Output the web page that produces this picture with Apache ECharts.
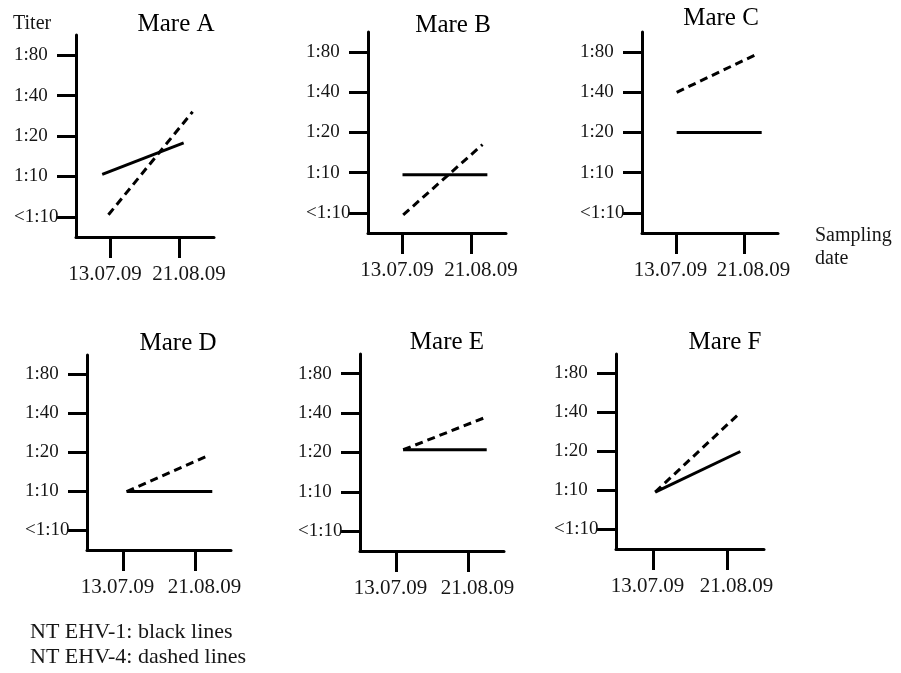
<!DOCTYPE html>
<html>
<head>
<meta charset="utf-8">
<script src="https://cdn.jsdelivr.net/npm/echarts@6/dist/echarts.min.js"></script>
<style>
html,body{margin:0;padding:0;background:#fff;}
#chart{width:901px;height:673px;}
</style>
</head>
<body>
<div id="chart"></div>
<script>
// ---- data ----
const mares = ['Mare A', 'Mare B', 'Mare C', 'Mare D', 'Mare E', 'Mare F'];
const dates = ['13.07.09', '21.08.09'];
const titerLabels = ['<1:10', '1:10', '1:20', '1:40', '1:80'];
// [x (sampling position), y (titer level index)] start and end of each line
const ehv1 = [
  [[-0.12, 1.05], [1.06, 1.83]],
  [[0.00, 0.95], [1.23, 0.95]],
  [[0.01, 2.00], [1.26, 2.00]],
  [[0.05, 1.00], [1.24, 1.00]],
  [[0.10, 2.07], [1.26, 2.07]],
  [[0.03, 0.96], [1.18, 2.00]]
];
const ehv4 = [
  [[-0.03, 0.05], [1.19, 2.60]],
  [[0.01, -0.05], [1.16, 1.70]],
  [[0.01, 3.00], [1.19, 3.95]],
  [[0.05, 1.00], [1.18, 1.92]],
  [[0.10, 2.07], [1.24, 2.89]],
  [[0.03, 0.96], [1.18, 3.00]]
];
const legendLines = ['NT EHV-1: black lines', 'NT EHV-4: dashed lines'];

// ---- layout ----
const boxes = [
  {left: 76, top: 35, width: 138, height: 202},
  {left: 368, top: 32, width: 138, height: 201},
  {left: 642, top: 32, width: 136, height: 201},
  {left: 87, top: 355, width: 144, height: 195},
  {left: 360, top: 354, width: 144, height: 197},
  {left: 616, top: 354, width: 148, height: 195}
];
const titlePos = [[176, 24], [453, 25], [721, 18], [178, 343], [447, 342], [725, 342]];
const FONT = '"Liberation Serif", "Times New Roman", serif';
const INK = '#161616';

const grid = [], xAxis = [], yAxis = [], series = [], graphic = [];
boxes.forEach((b, i) => {
  grid.push({left: b.left, top: b.top, width: b.width, height: b.height});
  xAxis.push({
    type: 'value', gridIndex: i, min: -0.5, max: 1.5,
    splitLine: {show: false},
    axisLine: {show: true, onZero: false, lineStyle: {color: '#000', width: 3}},
    axisTick: {show: true, customValues: [0, 1], length: 21, lineStyle: {color: '#000', width: 3}},
    axisLabel: {
      show: true, customValues: [0, 1], margin: 27,
      formatter: v => (v === 0 ? '{a|' : '{b|') + dates[Math.round(v)] + '}',
      rich: {
        a: {fontFamily: FONT, fontSize: 21, color: INK, padding: [0, 11, 0, 0]},
        b: {fontFamily: FONT, fontSize: 21, color: INK, padding: [0, 0, 0, 19]}
      }
    }
  });
  yAxis.push({
    type: 'value', gridIndex: i, min: -0.5, max: 4.5,
    splitLine: {show: false},
    axisLine: {show: true, onZero: false, lineStyle: {color: '#000', width: 3}},
    axisTick: {show: true, customValues: [0, 1, 2, 3, 4], length: 19, lineStyle: {color: '#000', width: 3}},
    axisLabel: {
      show: true, customValues: [0, 1, 2, 3, 4], margin: 62, align: 'left',
      fontFamily: FONT, fontSize: 19, color: INK, padding: [0, 0, 3, 0],
      formatter: v => titerLabels[Math.round(v)]
    }
  });
  series.push({
    type: 'line', xAxisIndex: i, yAxisIndex: i, data: ehv1[i],
    symbol: 'none', silent: true,
    lineStyle: {color: '#000', width: 3, type: 'solid'}
  });
  series.push({
    type: 'line', xAxisIndex: i, yAxisIndex: i, data: ehv4[i],
    symbol: 'none', silent: true,
    lineStyle: {color: '#000', width: 3, type: [8, 5]}
  });
  graphic.push({
    type: 'text', x: titlePos[i][0], y: titlePos[i][1],
    style: {text: mares[i], font: '25px ' + FONT, fill: '#000', align: 'center', verticalAlign: 'middle'}
  });
});

graphic.push({type: 'text', x: 13, y: 24,
  style: {text: 'Titer', font: '20px ' + FONT, fill: INK, align: 'left', verticalAlign: 'middle'}});
graphic.push({type: 'text', x: 815, y: 236,
  style: {text: 'Sampling', font: '20px ' + FONT, fill: INK, align: 'left', verticalAlign: 'middle'}});
graphic.push({type: 'text', x: 815, y: 259,
  style: {text: 'date', font: '20px ' + FONT, fill: INK, align: 'left', verticalAlign: 'middle'}});
legendLines.forEach((t, k) => {
  graphic.push({type: 'text', x: 30, y: 632 + k * 25,
    style: {text: t, font: '22px ' + FONT, fill: INK, align: 'left', verticalAlign: 'middle'}});
});

const chart = echarts.init(document.getElementById('chart'), null, {renderer: 'canvas'});
chart.setOption({
  animation: false,
  backgroundColor: '#fff',
  grid, xAxis, yAxis, series, graphic
});
</script>
</body>
</html>
